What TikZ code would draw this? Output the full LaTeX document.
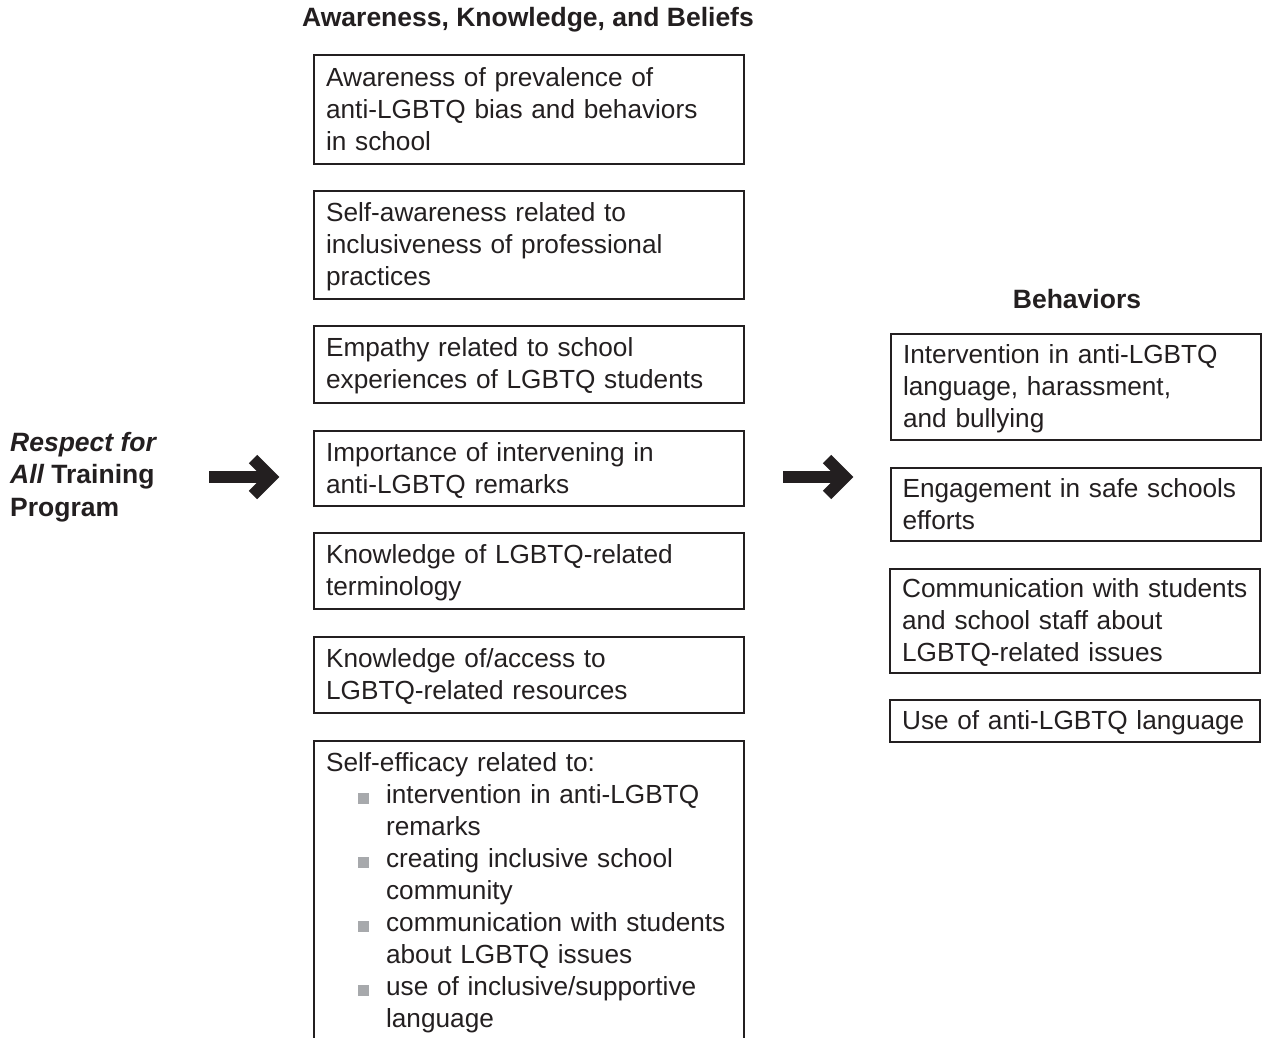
\documentclass[tikz,border=0pt]{standalone}
\usepackage{fontspec}
\setmainfont{Liberation Sans}
\definecolor{ink}{HTML}{231F20}
\definecolor{bulgray}{HTML}{A7A9AC}
\newcommand\bulitem{\makebox[60pt][l]{\hspace*{32pt}\textcolor{bulgray}{\rule[-0.5pt]{11pt}{11pt}}}}
\newcommand\hangind{\hspace*{60pt}}
\newcommand\mystrut{\rule[-5pt]{0pt}{27pt}}
\begin{document}
\begin{tikzpicture}[x=1pt,y=-1pt,
  box/.style={draw=ink, line width=2.2pt, anchor=north west, inner xsep=12pt, inner ysep=0pt,
    align=left, text=ink, font=\fontsize{26.2}{32}\selectfont,
    execute at begin node=\mystrut, execute at end node=\mystrut},
  lbox/.style={box, minimum width=430pt, text width=406pt},
  rbox/.style={box, minimum width=368pt, text width=346pt},
  head/.style={text=ink, font=\fontsize{26.5}{32.5}\selectfont\bfseries, inner sep=0pt},
  bigarrow/.style={draw=ink, line width=11.5pt},
  bighead/.style={draw=ink, line width=12pt, miter limit=10}]
\useasboundingbox (0,0) rectangle (1262,1038);
\clip (0,0) rectangle (1262,1038);

% headings
\node[head] (h1) at (528,20) {Awareness, Knowledge, and Beliefs};
\node[head] (h2) at (1077,299) {Behaviors};

% program label
\node[head, anchor=west, align=left] (prog) at (10,477)
  {\itshape Respect for\\{\itshape All} Training\\Program};

% left column
\node[lbox, minimum height=109pt] (b1) at (313,54)
  {Awareness of prevalence of\\anti-LGBTQ bias and behaviors\\in school};
\node[lbox, minimum height=108pt] (b2) at (313,190)
  {Self-awareness related to\\inclusiveness of professional\\practices};
\node[lbox, minimum height=77pt] (b3) at (313,325)
  {Empathy related to school\\experiences of LGBTQ students};
\node[lbox, minimum height=75pt] (b4) at (313,430)
  {Importance of intervening in\\anti-LGBTQ remarks};
\node[lbox, minimum height=76pt] (b5) at (313,532)
  {Knowledge of LGBTQ-related\\terminology};
\node[lbox, minimum height=76pt] (b6) at (313,636)
  {Knowledge of/access to\\LGBTQ-related resources};
\node[lbox, inner ysep=8pt] (b7) at (313,740)
  {Self-efficacy related to:\\
   \bulitem intervention in anti-LGBTQ\\
   \hangind remarks\\
   \bulitem creating inclusive school\\
   \hangind community\\
   \bulitem communication with students\\
   \hangind about LGBTQ issues\\
   \bulitem use of inclusive/supportive\\
   \hangind language};

% right column
\node[rbox, minimum height=106pt] (r1) at (890,333)
  {Intervention in anti-LGBTQ\\language, harassment,\\and bullying};
\node[rbox, minimum height=73pt] (r2) at (889.5,467)
  {Engagement in safe schools\\efforts};
\node[rbox, minimum height=104pt] (r3) at (889,568)
  {Communication with students\\and school staff about\\LGBTQ-related issues};
\node[rbox, minimum height=42pt] (r4) at (889,699)
  {Use of anti-LGBTQ language};

% arrows
\coordinate (a1s) at (209,477);
\coordinate (a1t) at (271,477);
\coordinate (a2s) at (783,477);
\coordinate (a2t) at (845,477);
\draw[bigarrow] (a1s) -- ([xshift=-8pt]a1t);
\draw[bighead] ([shift={(-18,-18)}]a1t) -- (a1t) -- ([shift={(-18,18)}]a1t);
\draw[bigarrow] (a2s) -- ([xshift=-8pt]a2t);
\draw[bighead] ([shift={(-18,-18)}]a2t) -- (a2t) -- ([shift={(-18,18)}]a2t);
\end{tikzpicture}
\end{document}
